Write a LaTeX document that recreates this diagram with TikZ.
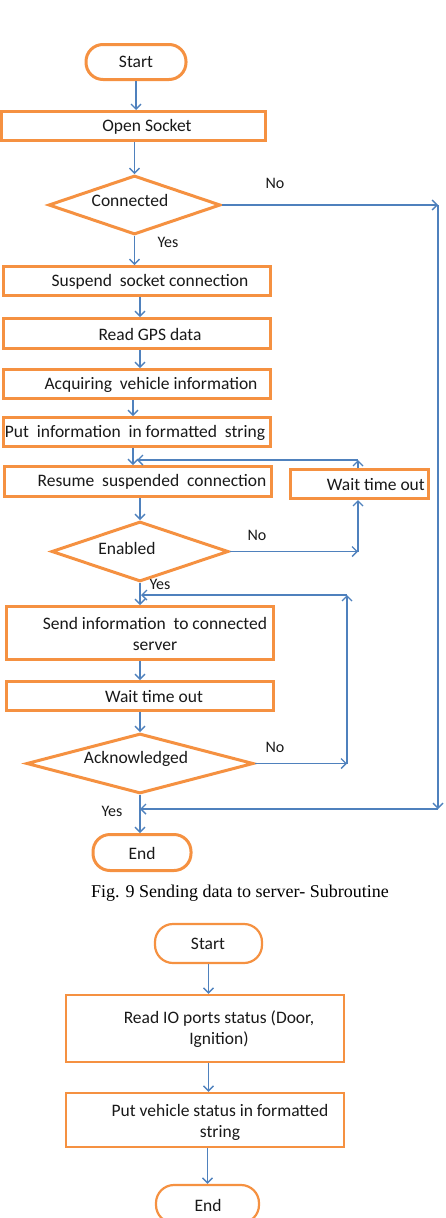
\documentclass[tikz,border=0pt]{standalone}
\usepackage{fontspec}
\setmainfont{Carlito}
\newfontfamily\capfont{Liberation Serif}
\usetikzlibrary{shapes.geometric,arrows.meta}
\definecolor{boxorange}{RGB}{245,145,65}
\definecolor{arrowblue}{RGB}{79,129,189}
\definecolor{txtgray}{RGB}{25,25,25}
\begin{document}
\begin{tikzpicture}[x=1pt,y=-1pt,
  proc/.style={draw=boxorange,line width=3pt,fill=white,rectangle,inner sep=0pt},
  term/.style={proc,rounded corners=17pt},
  proctwo/.style={proc,line width=2.2pt},
  termtwo/.style={proctwo,rounded corners=18pt},
  dec/.style={draw=boxorange,line width=3pt,fill=white,diamond,inner sep=0pt},
  txt/.style={text=txtgray,font=\fontsize{17.5}{21}\selectfont,inner sep=0pt,align=center},
  lbl/.style={text=txtgray,font=\fontsize{16}{19}\selectfont,inner sep=0pt},
  flow/.style={draw=arrowblue,line width=1.4pt,-{Straight Barb[length=5pt,width=10pt]}}]
\useasboundingbox (0,0) rectangle (445,1218);

% ---------- top flowchart: boxes ----------
\node[term,minimum width=100pt,minimum height=35pt] (start) at (136,62) {};
\node[proc,minimum width=264pt,minimum height=29pt] (open) at (133.5,126) {};
\node[dec,minimum width=172pt,minimum height=59pt,shape aspect=2.9] (conn) at (134.5,205) {};
\node[proc,minimum width=267pt,minimum height=29pt] (suspend) at (137,281) {};
\node[proc,minimum width=267pt,minimum height=30pt] (gps) at (137,333.5) {};
\node[proc,minimum width=267pt,minimum height=29pt] (acq) at (137,384) {};
\node[proc,minimum width=267pt,minimum height=29pt] (put) at (137,432) {};
\node[proc,minimum width=267pt,minimum height=30pt] (resume) at (138,481.5) {};
\node[proc,minimum width=138pt,minimum height=29pt] (wait2) at (359.5,484) {};
\node[lbl] (yes2) at (160,584) {Yes};
\node[dec,minimum width=177pt,minimum height=60pt,shape aspect=2.9] (enab) at (140,551.5) {};
\node[proc,minimum width=267pt,minimum height=53pt] (send) at (140,633) {};
\node[proc,minimum width=267pt,minimum height=29pt] (wait1) at (140,696) {};
\node[dec,minimum width=227pt,minimum height=60pt,shape aspect=3.7] (ack) at (140,763.5) {};
\node[term,minimum width=98pt,minimum height=36pt] (end) at (142,852.5) {};

% ---------- top flowchart: texts ----------
\node[txt] (tstart) at (136,62) {Start};
\node[txt] (topen) at (147,127) {Open Socket};
\node[txt] (tconn) at (130,200) {Connected};
\node[txt] (tsusp) at (150,282) {Suspend\ \ socket connection};
\node[txt] (tgps) at (150,334) {Read GPS data};
\node[txt] (tacq) at (151,385) {Acquiring\ \ vehicle information};
\node[txt] (tput) at (135,433) {Put\ \ information\ \ in formatted\ \ string};
\node[txt] (tres) at (152,482) {Resume\ \ suspended\ \ connection};
\node[txt,anchor=east] (twait2) at (425,485) {Wait time out};
\node[txt] (tenab) at (127,548) {Enabled};
\node[txt] (tsend) at (155,634) {Send information\ \ to connected\\server};
\node[txt] (twait1) at (154,697) {Wait time out};
\node[txt] (tack) at (136,759) {Acknowledged};
\node[txt] (tend) at (142,853) {End};

% labels
\node[lbl] (no1) at (275,183) {No};
\node[lbl] (yes1) at (168,242) {Yes};
\node[lbl] (no2) at (257,535) {No};
\node[lbl] (no3) at (275,747) {No};
\node[lbl] (yes3) at (112,811) {Yes};

% ---------- top flowchart: connectors ----------
\coordinate (xa) at (140,0);
\coordinate (xb) at (133,0);
\coordinate (wtop) at (358,460);
\coordinate (wleft) at (137,460);
\coordinate (lx) at (347,0);
\coordinate (ltop) at (347,595);
\coordinate (lend) at (141,595);
\coordinate (rx) at (438,0);
\coordinate (rbot) at (438,809);

\draw[flow] (start.south) -- (start.south |- open.north);
\draw[flow] (open.south -| conn.north) -- (conn.north);
\draw[flow] (conn.south) -- (conn.south |- suspend.north);
\draw[flow] (xa |- suspend.south) -- (xa |- gps.north);
\draw[flow] (xa |- gps.south) -- (xa |- acq.north);
\draw[flow] (xb |- acq.south) -- (xb |- put.north);
\draw[flow] (xb |- put.south) -- (xb |- resume.north);
\draw[flow] (wait2.north -| wtop) -- (wtop);
\draw[flow] (wtop) -- (wleft);
\draw[flow] (xa |- resume.south) -- (enab.north);
\draw[flow] (enab.east) -- (enab.east -| wtop);
\draw[flow] (enab.east -| wtop) -- (wait2.south -| wtop);
\draw[flow] (enab.south) -- (enab.south |- send.north);
\draw[flow] (send.south) -- (wait1.north);
\draw[flow] (wait1.south) -- (ack.north);
\draw[flow] (ack.east) -- (ack.east -| lx);
\draw[flow] (ack.east -| lx) -- (ltop);
\draw[flow] (ltop) -- (lend);
\draw[flow] (ack.south) -- (ack.south |- end.north);
\draw[flow] (conn.east) -- (conn.east -| rx);
\draw[flow] (conn.east -| rx) -- (rbot);
\draw[flow] (rbot) -- (rbot -| ack.south);

% ---------- caption ----------
\node[font=\capfont\fontsize{18}{21}\selectfont,text=black,inner sep=0pt] (cap) at (240,893) {Fig. 9 Sending data to server- Subroutine};

% ---------- bottom flowchart ----------
\node[termtwo,minimum width=107pt,minimum height=39pt] (start2) at (208.5,943.5) {};
\node[proctwo,minimum width=278pt,minimum height=67pt] (readio) at (205,1028.5) {};
\node[proctwo,minimum width=278pt,minimum height=54pt] (putv) at (205,1120) {};
\node[termtwo,minimum width=103pt,minimum height=38pt] (end2) at (207.5,1204) {};

\node[txt] (tstart2) at (208,944) {Start};
\node[txt] (tread) at (219,1029) {Read IO ports status (Door,\\Ignition)};
\node[txt] (tputv) at (220,1122) {Put vehicle status in formatted\\string};
\node[txt] (tend2) at (208,1205) {End};

\draw[flow] (start2.south) -- (start2.south |- readio.north);
\draw[flow] (start2.south |- readio.south) -- (start2.south |- putv.north);
\draw[flow] (putv.south -| end2.north) -- (end2.north);
\end{tikzpicture}
\end{document}
